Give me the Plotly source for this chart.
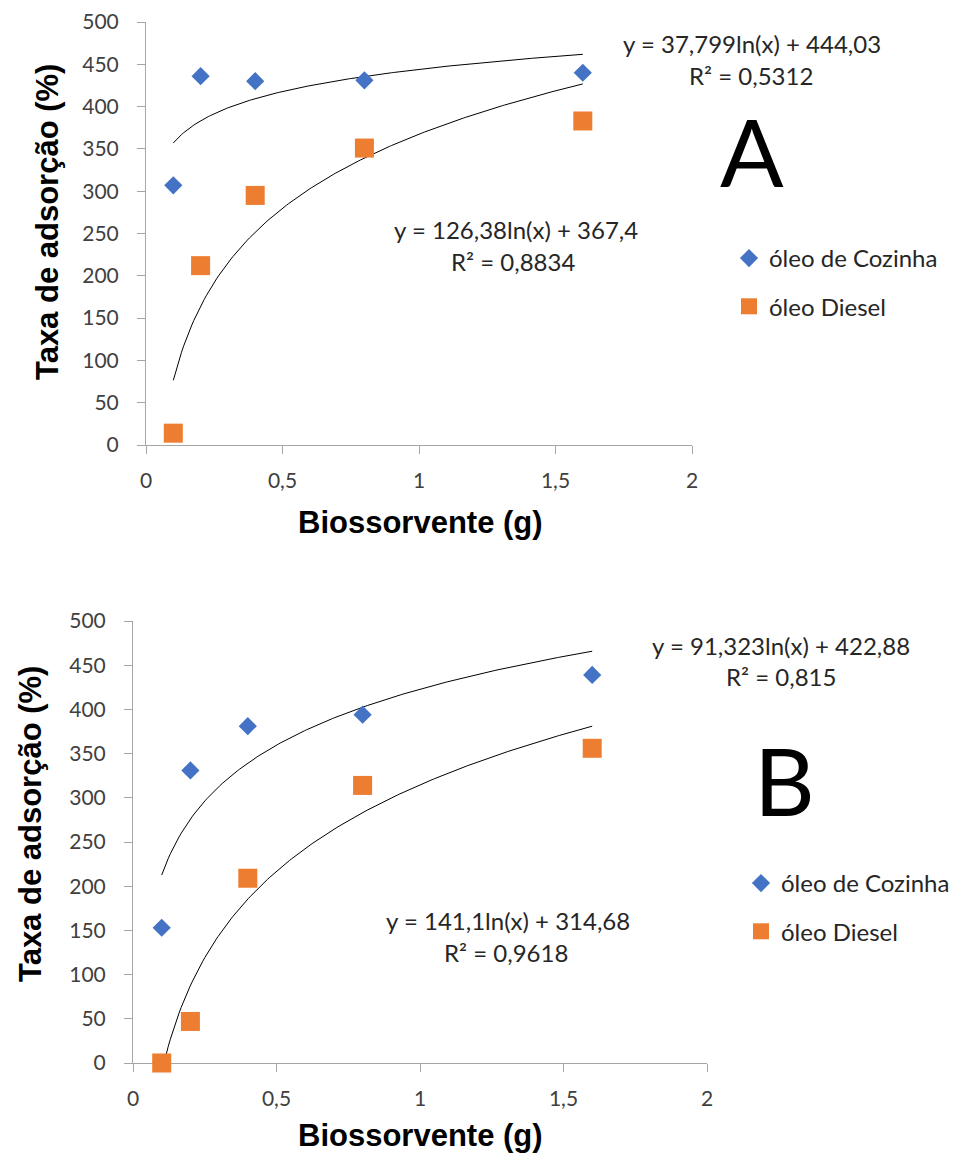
import numpy as np
import plotly.graph_objects as go

# ---- data ----
x_vals = [0.1, 0.2, 0.4, 0.8, 1.6]
a_cozinha = [307, 436, 430, 431, 440]
a_diesel = [14, 212, 295, 351, 383]
b_cozinha = [153, 331, 381, 394, 439]
b_diesel = [0, 47, 209, 314, 356]

# trendline coefficients (y = a*ln(x) + b)
a_coz_fit = (37.799, 444.03)
a_die_fit = (126.38, 367.4)
b_coz_fit = (91.323, 422.88)
b_die_fit = (141.1, 314.68)

eq_a_coz = ["y = 37,799ln(x) + 444,03", "R² = 0,5312"]
eq_a_die = ["y = 126,38ln(x) + 367,4", "R² = 0,8834"]
eq_b_coz = ["y = 91,323ln(x) + 422,88", "R² = 0,815"]
eq_b_die = ["y = 141,1ln(x) + 314,68", "R² = 0,9618"]

names = ["óleo de Cozinha", "óleo Diesel"]
BLUE = "#4472C4"
ORANGE = "#ED7D31"
W, H = 953, 1157
TXT = "#262626"
TICKFONT = dict(family="Lato", size=21, color="#404040")

fig = go.Figure()

xt = np.linspace(min(x_vals), max(x_vals), 200)

def add_panel(xa, ya, coz, die, coz_fit, die_fit, leg):
    fig.add_trace(go.Scatter(x=xt, y=coz_fit[0] * np.log(xt) + coz_fit[1], mode="lines",
                             line=dict(color="#000000", width=1), showlegend=False,
                             xaxis=xa, yaxis=ya, hoverinfo="skip"))
    fig.add_trace(go.Scatter(x=xt, y=die_fit[0] * np.log(xt) + die_fit[1], mode="lines",
                             line=dict(color="#000000", width=1), showlegend=False,
                             xaxis=xa, yaxis=ya, hoverinfo="skip"))
    fig.add_trace(go.Scatter(x=x_vals, y=coz, mode="markers", name=names[0],
                             marker=dict(symbol="diamond", size=14, color=BLUE),
                             cliponaxis=False,
                             xaxis=xa, yaxis=ya, legend=leg, legendgroup=leg + "c"))
    fig.add_trace(go.Scatter(x=x_vals, y=die, mode="markers", name=names[1],
                             marker=dict(symbol="square", size=19, color=ORANGE),
                             cliponaxis=False,
                             xaxis=xa, yaxis=ya, legend=leg, legendgroup=leg + "d"))

add_panel("x", "y", a_cozinha, a_diesel, a_coz_fit, a_die_fit, "legend")
add_panel("x2", "y2", b_cozinha, b_diesel, b_coz_fit, b_die_fit, "legend2")

def px_x(p):
    return p / W

def px_y(p):
    return 1 - p / H

common_x = dict(range=[0, 2], dtick=0.5, tick0=0, showgrid=False, zeroline=False,
                showline=True, linecolor="#a6a6a6", linewidth=1, ticks="outside",
                ticklen=8, tickcolor="#a6a6a6", tickfont=TICKFONT, ticklabelstandoff=9,
                automargin=False, layer="below traces")
common_y = dict(range=[0, 500], dtick=50, tick0=0, showgrid=False, zeroline=False,
                showline=True, linecolor="#a6a6a6", linewidth=1, ticks="outside",
                ticklen=8, tickcolor="#a6a6a6", tickfont=TICKFONT, ticklabelstandoff=14,
                automargin=False, layer="below traces")

LEGFONT = dict(family="Lato", size=24, color=TXT)
fig.update_layout(
    width=W, height=H,
    margin=dict(l=0, r=0, t=0, b=0, pad=0, autoexpand=False),
    paper_bgcolor="white", plot_bgcolor="white",
    separators=",.",
    xaxis=dict(domain=[px_x(146), px_x(692)], anchor="y", **common_x),
    yaxis=dict(domain=[px_y(445), px_y(22)], anchor="x", **common_y),
    xaxis2=dict(domain=[px_x(133), px_x(707)], anchor="y2", **common_x),
    yaxis2=dict(domain=[px_y(1063), px_y(621)], anchor="x2", **common_y),
    legend=dict(x=px_x(729), y=px_y(236), xanchor="left", yanchor="top",
                font=LEGFONT, tracegroupgap=14,
                bgcolor="rgba(0,0,0,0)", itemwidth=30),
    legend2=dict(x=px_x(741), y=px_y(861), xanchor="left", yanchor="top",
                 font=LEGFONT, tracegroupgap=14,
                 bgcolor="rgba(0,0,0,0)", itemwidth=30),
    showlegend=True,
)

def ann(text, x, y, size=24, bold=False, family="Lato", angle=0, color=TXT):
    fig.add_annotation(text=("<b>%s</b>" % text) if bold else text,
                       x=px_x(x), y=px_y(y), xref="paper", yref="paper",
                       xanchor="center", yanchor="middle", showarrow=False,
                       textangle=angle, font=dict(family=family, size=size, color=color))

# panel A texts
ann(eq_a_coz[0], 752, 43)
ann(eq_a_coz[1], 751, 75)
ann(eq_a_die[0], 516, 229)
ann(eq_a_die[1], 513, 261)
ann("A", 752, 151, size=94, color="#000000")
ann("Biossorvente (g)", 420, 522, size=31, bold=True, family="Liberation Sans", color="#000000")
ann("Taxa de adsorção (%)", 47, 222, size=31, bold=True, family="Liberation Sans", angle=-90, color="#000000")

# panel B texts
ann(eq_b_coz[0], 781, 645)
ann(eq_b_coz[1], 781, 676)
ann(eq_b_die[0], 508, 920)
ann(eq_b_die[1], 506, 952)
ann("B", 784, 779, size=94, color="#000000")
ann("Biossorvente (g)", 420, 1135, size=31, bold=True, family="Liberation Sans", color="#000000")
ann("Taxa de adsorção (%)", 30, 824, size=31, bold=True, family="Liberation Sans", angle=-90, color="#000000")

fig.write_html("out.html", config={"displayModeBar": False},
               post_script="document.body.style.margin='0';document.body.style.overflow='hidden';")
